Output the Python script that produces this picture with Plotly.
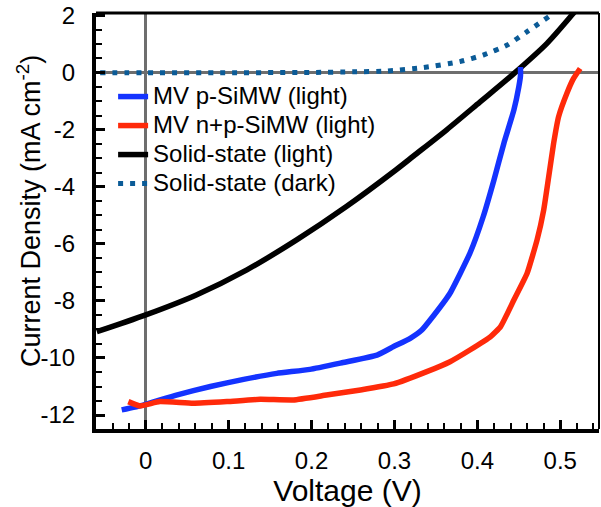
import plotly.graph_objects as go

# ---------------- data ----------------
v_p_simw = [-0.029, -0.003, 0.037, 0.078, 0.118, 0.158, 0.198, 0.238, 0.279, 0.299,
            0.319, 0.333, 0.343, 0.367, 0.391, 0.407, 0.420, 0.432, 0.444, 0.450,
            0.452, 0.452]
j_p_simw = [-11.82, -11.65, -11.30, -11.00, -10.75, -10.54, -10.40, -10.16, -9.90, -9.60,
            -9.31, -9.02, -8.67, -7.73, -6.33, -5.05, -3.76, -2.47, -1.31, -0.49,
            -0.10, 0.20]

v_np_simw = [-0.021, -0.007, 0.017, 0.057, 0.098, 0.138, 0.178, 0.218, 0.259, 0.299,
             0.339, 0.367, 0.391, 0.416, 0.428, 0.444, 0.460, 0.472, 0.480, 0.486,
             0.492, 0.498, 0.508, 0.516, 0.524]
j_np_simw = [-11.53, -11.68, -11.53, -11.59, -11.53, -11.45, -11.47, -11.30, -11.12, -10.91,
             -10.48, -10.13, -9.72, -9.25, -8.90, -7.97, -7.03, -5.86, -4.81, -3.65,
             -2.47, -1.54, -0.72, -0.20, 0.15]

v_solid_light = [-0.059, 0.0, 0.061, 0.122, 0.182, 0.242, 0.302, 0.323, 0.363, 0.403,
                 0.444, 0.484, 0.514, 0.522]
j_solid_light = [-9.08, -8.49, -7.79, -6.91, -5.86, -4.69, -3.40, -2.92, -2.00, -1.03,
                 -0.03, 1.03, 2.02, 2.30]

v_solid_dark = [-0.055, 0.0, 0.1, 0.2, 0.25, 0.291, 0.335, 0.379, 0.407, 0.436, 0.460, 0.486]
j_solid_dark = [0.0, 0.0, 0.0, 0.01, 0.03, 0.06, 0.18, 0.39, 0.62, 0.97, 1.44, 1.96]

names = ["MV p-SiMW (light)", "MV n+p-SiMW (light)", "Solid-state (light)", "Solid-state (dark)"]

x_ticks = [0, 0.1, 0.2, 0.3, 0.4, 0.5]
x_ticktext = ["0", "0.1", "0.2", "0.3", "0.4", "0.5"]
y_ticks = [-12, -10, -8, -6, -4, -2, 0, 2]
y_ticktext = ["-12", "-10", "-8", "-6", "-4", "-2", "0", "2"]

x_title = "Voltage (V)"
y_title = "Current Density (mA cm<sup>-2</sup>)"

FONT = "Liberation Sans, Arial, Helvetica, sans-serif"

def leg(name):
    return "<span style='font-size:24px'>" + name + "</span>"

fig = go.Figure()
fig.add_trace(go.Scatter(x=v_solid_dark, y=j_solid_dark, mode="lines", name=leg(names[3]),
                         line=dict(color="#0b5b97", width=5, dash="5px,7px", shape="spline", smoothing=0.6),
                         legendrank=4))
fig.add_trace(go.Scatter(x=v_solid_light, y=j_solid_light, mode="lines", name=leg(names[2]),
                         line=dict(color="black", width=5.5, shape="spline", smoothing=0.8),
                         legendrank=3))
fig.add_trace(go.Scatter(x=v_p_simw, y=j_p_simw, mode="lines", name=leg(names[0]),
                         line=dict(color="#1433ff", width=5.5, shape="spline", smoothing=0.4),
                         legendrank=1))
fig.add_trace(go.Scatter(x=v_np_simw, y=j_np_simw, mode="lines", name=leg(names[1]),
                         line=dict(color="#ff2a0a", width=5.5, shape="spline", smoothing=0.4),
                         legendrank=2))

fig.update_layout(
    width=601, height=507,
    margin=dict(l=96, r=2, t=13, b=78, pad=0),
    paper_bgcolor="white", plot_bgcolor="white",
    font=dict(family=FONT, color="black", size=24),
    showlegend=True,
    legend=dict(x=0.034, y=0.846, xanchor="left", yanchor="top",
                bgcolor="rgba(0,0,0,0)", borderwidth=0,
                font=dict(family=FONT, size=20, color="black"),
                traceorder="normal", tracegroupgap=0),
    xaxis=dict(
        range=[-0.060, 0.5467], showgrid=False,
        zeroline=True, zerolinecolor="#6e6e6e", zerolinewidth=3,
        showline=True, linecolor="black", linewidth=4,
        ticks="inside", ticklen=9, tickwidth=3, tickcolor="black",
        tickvals=x_ticks, ticktext=x_ticktext,
        tickfont=dict(family=FONT, size=24, color="black"),
        ticklabelstandoff=7,
        minor=dict(ticks="inside", ticklen=6, tickwidth=1.5, tickcolor="black",
                   dtick=0.02, tick0=0, showgrid=False),
        title=dict(text=x_title, font=dict(family=FONT, size=30, color="black"), standoff=6),
        automargin=False,
    ),
    yaxis=dict(
        range=[-12.49, 2.093], showgrid=False,
        zeroline=True, zerolinecolor="#6e6e6e", zerolinewidth=3,
        showline=True, linecolor="black", linewidth=4,
        ticks="inside", ticklen=9, tickwidth=3, tickcolor="black",
        tickvals=y_ticks, ticktext=y_ticktext,
        tickfont=dict(family=FONT, size=24, color="black"),
        ticklabelstandoff=12,
        minor=dict(ticks="inside", ticklen=6, tickwidth=1.5, tickcolor="black",
                   dtick=0.5, tick0=0, showgrid=False),
        automargin=False,
    ),
    annotations=[
        dict(text=y_title, xref="paper", yref="paper", x=-0.133, y=0.524,
             xanchor="center", yanchor="middle", textangle=-90, showarrow=False,
             font=dict(family=FONT, size=27, color="black")),
    ],
    shapes=[
        dict(type="line", xref="paper", yref="paper", x0=0, x1=1, y0=1, y1=1,
             line=dict(color="black", width=3)),
        dict(type="line", xref="paper", yref="paper", x0=1, x1=1, y0=0, y1=1,
             line=dict(color="black", width=2)),
    ],
)

fig.write_html("out.html")
